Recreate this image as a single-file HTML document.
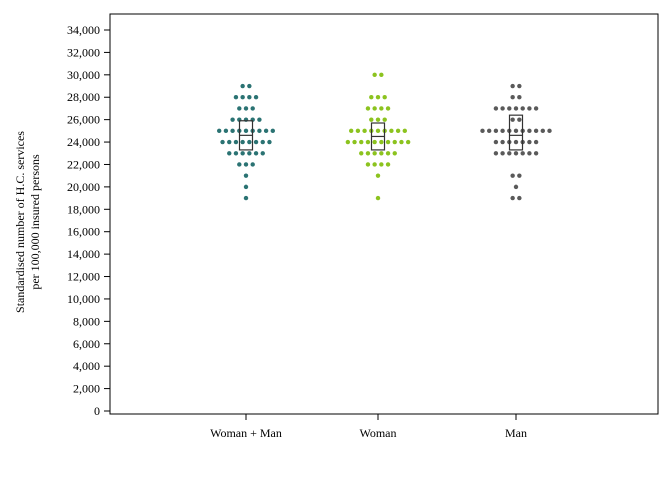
<!DOCTYPE html>
<html><head><meta charset="utf-8"><style>
body{margin:0;background:#fff}
svg{display:block;font-family:"Liberation Serif",serif;font-size:12px}
</style></head><body>
<svg id="chart" width="672" height="480">
<rect x="110" y="14" width="548" height="400" fill="none" stroke="#000" stroke-width="1"/>
<g id="yaxis"></g>
<g id="xaxis"></g>
<g id="dots"></g>
<text transform="translate(24,222) rotate(-90)" text-anchor="middle"><tspan x="0" dy="0">Standardised number of H.C. services</tspan><tspan x="0" dy="15">per 100,000 insured persons</tspan></text>
</svg>
<script>
const categories = ["Woman + Man","Woman","Man"];
const colors = ["#2b7373","#8cc31f","#5a5a5a"];
const levels = [30000,29000,28000,27000,26000,25000,24000,23000,22000,21000,20000,19000];
const countsBoth  = [0,2,4,3,5,9,8,6,3,1,1,1];
const countsWoman = [2,0,3,4,3,9,10,6,4,1,0,1];
const countsMan   = [0,2,2,7,2,11,7,7,0,2,1,2];
const q1 = [23300,23300,23300];
const med = [24600,24500,24600];
const q3 = [25900,25700,26400];
const yTicks = [0,2000,4000,6000,8000,10000,12000,14000,16000,18000,20000,22000,24000,26000,28000,30000,32000,34000];
const counts=[countsBoth,countsWoman,countsMan];
const svgNS="http://www.w3.org/2000/svg";
const y=v=>411-v*(381/34000);
const xc=[246,378,516];
function mk(tag,attrs,parent){const e=document.createElementNS(svgNS,tag);for(const k in attrs)e.setAttribute(k,attrs[k]);parent.appendChild(e);return e;}
const ya=document.getElementById('yaxis');
yTicks.forEach(t=>{
 const l=mk('line',{x1:104,x2:110,y1:y(t),y2:y(t),stroke:'#000'},ya);
 
 
 const tx=mk('text',{x:100,y:y(t)+4,'text-anchor':'end'},ya);
 tx.textContent=t.toLocaleString('en-US');
 
 
});
const xa=document.getElementById('xaxis');
categories.forEach((c,i)=>{
 const l=mk('line',{x1:xc[i],x2:xc[i],y1:414,y2:420,stroke:'#000'},xa);
 
 
 const tx=mk('text',{x:xc[i],y:437,'text-anchor':'middle'},xa);
 tx.textContent=c;
 
 
});
const dg=document.getElementById('dots');
counts.forEach((arr,i)=>{
 arr.forEach((n,j)=>{
  for(let k=0;k<n;k++){
   const cx=xc[i]+(k-(n-1)/2)*6.7;
   const d=mk('circle',{cx:cx,cy:y(levels[j]),r:2.2,fill:colors[i]},dg);
   
   
  }
 });
 const b=mk('rect',{x:xc[i]-6.5,y:y(q3[i]),width:13,height:y(q1[i])-y(q3[i]),fill:'none',stroke:'#333','stroke-width':1.2},dg);
 
 
 const m=mk('line',{x1:xc[i]-6.5,x2:xc[i]+6.5,y1:y(med[i]),y2:y(med[i]),stroke:'#333','stroke-width':1.2},dg);
 
 
});
</script>
</body></html>
